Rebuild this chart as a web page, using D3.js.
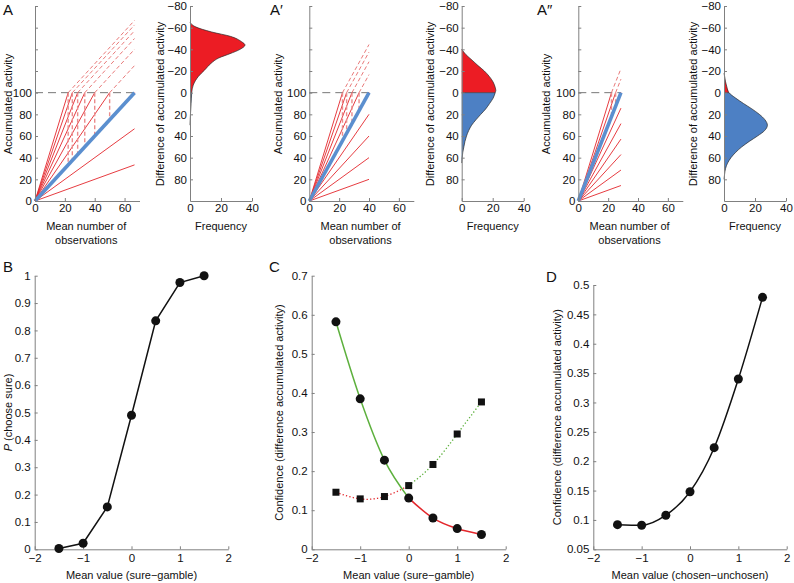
<!DOCTYPE html>
<html><head><meta charset="utf-8">
<script src="https://cdn.jsdelivr.net/npm/d3@7"></script>
<style>
body{margin:0;background:#fff}
svg{font-family:"Liberation Sans",Arial,sans-serif}
</style></head><body>
<svg id="c" width="794" height="583"></svg>
<script>
// ---------- data ----------
const obsTicks = [0, 20, 40, 60];
const accTicks = [0, 20, 40, 60, 80, 100, 120, 140, 160, 180];
const accTickLabels = ["0", "20", "40", "60", "80", "100", "", "", "", ""];
const diffTicks = [-80, -60, -40, -20, 0, 20, 40, 60, 80];
const freqTicks = [0, 20, 40];
const threshold = 100;
const gambleRates = [0.5, 1, 1.5, 2, 2.5, 3, 3.5, 4, 4.5];
const sureRates = [1.5, 2.5, 3.5];
const panelNames = ["A", "A\u2032", "A\u2033"];

const distA_diff = [-65, -61, -56, -52, -47, -44, -40, -36, -32, -27, -21, -15, -7, 0, 5, 10, 15, 20, 25, 30];
const distA_freq = [0, 3.2, 14, 26, 33.3, 35.5, 32.3, 25.8, 18.5, 13.5, 9.5, 5.4, 2.1, 1.1, 0.9, 0.7, 0.5, 0.3, 0.15, 0];
const distA1_diff = [-40, -35, -30, -25, -20, -15, -10, -5, -2, 0, 5, 10, 15, 20, 25, 30, 35, 40, 45, 50, 55, 60, 65];
const distA1_freq = [0, 2.8, 6.7, 10.5, 14.6, 17.8, 20.2, 21.6, 22, 21.6, 20.3, 18, 15.5, 12.3, 9.2, 6.4, 4.5, 3.1, 2.1, 1.4, 0.7, 0.3, 0];
const distA2_diff = [-18, -15, -10, -5, 0, 5, 10, 15, 20, 25, 30, 35, 40, 45, 50, 55, 60, 65, 70, 75, 80];
const distA2_freq = [0, 0.4, 1, 1.9, 3.2, 7.5, 12.6, 18, 22.8, 26.4, 28, 26.2, 21.6, 16.3, 11.5, 7.6, 4.5, 2.3, 1, 0.4, 0];

const meanValue = [-1.5, -1, -0.5, 0, 0.5, 1, 1.5];
const valueTicks = [-2, -1, 0, 1, 2];
const pChooseSure = [0.003, 0.022, 0.155, 0.49, 0.835, 0.975, 1.0];
const pTicks = [0, 0.1, 0.2, 0.3, 0.4, 0.5, 0.6, 0.7, 0.8, 0.9, 1];
const confCircle = [0.582, 0.385, 0.228, 0.131, 0.080, 0.053, 0.038];
const confSquare = [0.146, 0.129, 0.135, 0.163, 0.217, 0.295, 0.377];
const cTicks = [0, 0.1, 0.2, 0.3, 0.4, 0.5, 0.6, 0.7];
const confChosen = [0.092, 0.091, 0.108, 0.148, 0.223, 0.340, 0.479];
const dTicks = [0.05, 0.1, 0.15, 0.2, 0.25, 0.3, 0.35, 0.4, 0.45, 0.5];

// ---------- style ----------
const AX = "#808080", TXT = "#111", RED = "#e3262b", RED_D = "#e56a6a", BLUE_L = "#5b8fcf",
      RED_F = "#ec1c24", BLUE_F = "#4d80c4", GREEN = "#5db03d";
const svg = d3.select("#c");
const fmt = d3.format("");

function styleAxis(g, fs) {
  g.select(".domain").attr("stroke", AX).attr("stroke-width", 1);
  g.selectAll(".tick line").attr("stroke", AX);
  g.selectAll(".tick text").attr("fill", TXT).style("font-size", fs + "px");
  g.attr("font-family", null);
}
function vLabel(x, y, text, fs) {
  return svg.append("text").attr("transform", `translate(${x},${y}) rotate(-90)`)
    .attr("text-anchor", "middle").attr("dominant-baseline", "central")
    .style("font-size", fs + "px").attr("fill", TXT).text(text);
}
function hLabel(x, y, text, fs) {
  return svg.append("text").attr("x", x).attr("y", y).attr("text-anchor", "middle")
    .attr("dominant-baseline", "central").style("font-size", fs + "px").attr("fill", TXT).text(text);
}

// ---------- top panels ----------
const leftX0 = [35, 309.3, 578.3];
const histX0 = [190, 461.7, 724];
const labelLX = [8.3, 278.3, 545.7];
const labelRX = [160, 430, 693.3];
const letterX = [3, 270, 537];
const dists = [[distA_diff, distA_freq], [distA1_diff, distA1_freq], [distA2_diff, distA2_freq]];
const yTop = 6, yBot = 201;

sureRates.forEach((s, i) => {
  const x = d3.scaleLinear().domain([0, 70]).range([leftX0[i], leftX0[i] + 104.5]);
  const y = d3.scaleLinear().domain([0, 180]).range([yBot, yTop]);
  const T = threshold / s;
  const g = svg.append("g");

  g.append("line").attr("x1", x(0)).attr("x2", x(T)).attr("y1", y(threshold)).attr("y2", y(threshold))
    .attr("stroke", "#777").attr("stroke-width", 1).attr("stroke-dasharray", "8,5");

  gambleRates.forEach(r => {
    const t = threshold / r;
    if (t < T) {
      g.append("line").attr("x1", x(0)).attr("y1", y(0)).attr("x2", x(t)).attr("y2", y(threshold))
        .attr("stroke", RED).attr("stroke-width", 0.9);
      g.append("line").attr("x1", x(t)).attr("y1", y(threshold)).attr("x2", x(T)).attr("y2", y(threshold + s * (T - t)))
        .attr("stroke", RED_D).attr("stroke-width", 0.9).attr("stroke-dasharray", "4,2.5");
      g.append("line").attr("x1", x(t)).attr("y1", y(threshold)).attr("x2", x(t)).attr("y2", y(s * t))
        .attr("stroke", "#ea8c8c").attr("stroke-width", 1.4).attr("stroke-dasharray", "4,2.5");
    } else {
      g.append("line").attr("x1", x(0)).attr("y1", y(0)).attr("x2", x(T)).attr("y2", y(r * T))
        .attr("stroke", RED).attr("stroke-width", 0.9);
    }
  });
  g.append("line").attr("x1", x(0)).attr("y1", y(0)).attr("x2", x(T)).attr("y2", y(threshold))
    .attr("stroke", BLUE_L).attr("stroke-width", 3.6).attr("stroke-linecap", "butt");

  const ax = svg.append("g").attr("transform", `translate(0,${yBot})`)
    .call(d3.axisBottom(x).tickValues(obsTicks).tickSizeInner(-3).tickSizeOuter(0).tickPadding(2.5).tickFormat(fmt));
  styleAxis(ax, 11.5);
  const ay = svg.append("g").attr("transform", `translate(${leftX0[i]},0)`)
    .call(d3.axisLeft(y).tickValues(accTicks).tickSizeInner(-3).tickSizeOuter(0).tickPadding(3)
      .tickFormat((d, k) => accTickLabels[k]));
  styleAxis(ay, 11.5);
  vLabel(labelLX[i], 104, "Accumulated activity", 11);
  hLabel(x(35) - 1, 226, "Mean number of", 11);
  hLabel(x(35) - 1, 239.5, "observations", 11);

  const hx = d3.scaleLinear().domain([0, 40]).range([histX0[i], histX0[i] + 62]);
  const hy = d3.scaleLinear().domain([-80, 100]).range([yTop, yBot]);
  const pts = dists[i][0].map((d, k) => [d, dists[i][1][k]]);
  const neg = pts.filter(p => p[0] <= 0), pos = pts.filter(p => p[0] >= 0);
  const area = d3.area().curve(d3.curveMonotoneY).y(d => hy(d[0])).x0(hx(0)).x1(d => hx(d[1]));
  const line = d3.line().curve(d3.curveMonotoneY).y(d => hy(d[0])).x(d => hx(d[1]));
  svg.append("path").attr("d", area(neg)).attr("fill", RED_F);
  svg.append("path").attr("d", area(pos)).attr("fill", BLUE_F);
  svg.append("path").attr("d", line(pts)).attr("fill", "none").attr("stroke", "#2a2a2a").attr("stroke-width", 0.7);
  const z = pts.find(p => p[0] === 0);
  svg.append("line").attr("x1", hx(0)).attr("x2", hx(z[1])).attr("y1", hy(0)).attr("y2", hy(0))
    .attr("stroke", "#2a2a2a").attr("stroke-width", 0.6);

  const hax = svg.append("g").attr("transform", `translate(0,${yBot})`)
    .call(d3.axisBottom(hx).tickValues(freqTicks).tickSizeInner(-3).tickSizeOuter(0).tickPadding(2.5).tickFormat(fmt));
  styleAxis(hax, 11.5);
  const hay = svg.append("g").attr("transform", `translate(${histX0[i]},0)`)
    .call(d3.axisLeft(hy).tickValues(diffTicks).tickSizeInner(-3).tickSizeOuter(0).tickPadding(3).tickFormat(fmt));
  styleAxis(hay, 11.5);
  vLabel(labelRX[i], 104, "Difference of accumulated activity", 11);
  hLabel(hx(20), 226, "Frequency", 11);

  svg.append("text").attr("x", letterX[i]).attr("y", 15).style("font-size", "15px").attr("fill", TXT).text(panelNames[i]);
});

// ---------- bottom panels ----------
function bottomPanel(x0, x1, yTopB, dom, ticks, letter, letterPos, ylab, ylabX, xlab) {
  const x = d3.scaleLinear().domain([-2, 2]).range([x0, x1]);
  const y = d3.scaleLinear().domain(dom).range([549.3, yTopB]);
  const ax = svg.append("g").attr("transform", `translate(0,549.3)`)
    .call(d3.axisBottom(x).tickValues(valueTicks).tickSizeInner(-3).tickSizeOuter(0).tickPadding(5).tickFormat(fmt));
  styleAxis(ax, 11.5);
  const ay = svg.append("g").attr("transform", `translate(${x0},0)`)
    .call(d3.axisLeft(y).tickValues(ticks).tickSizeInner(-3).tickSizeOuter(0).tickPadding(4).tickFormat(fmt));
  styleAxis(ay, 11.5);
  hLabel((x0 + x1) / 2, 575, xlab, 11);
  const yl = vLabel(ylabX, (549.3 + yTopB) / 2, "", 11);
  ylab(yl);
  svg.append("text").attr("x", letterPos[0]).attr("y", letterPos[1]).style("font-size", "15px").attr("fill", TXT).text(letter);
  return {x, y};
}

// B
{
  const {x, y} = bottomPanel(34.7, 228.3, 275.7, [0, 1], pTicks, "B", [3, 272], t => {
    t.append("tspan").style("font-style", "italic").text("P");
    t.append("tspan").text(" (choose sure)");
  }, 8.3, "Mean value (sure\u2212gamble)");
  const pts = meanValue.map((v, k) => [v, pChooseSure[k]]);
  svg.append("path").attr("d", d3.line().x(d => x(d[0])).y(d => y(d[1]))(pts))
    .attr("fill", "none").attr("stroke", "#111").attr("stroke-width", 1.5);
  svg.selectAll(null).data(pts).enter().append("circle").attr("cx", d => x(d[0])).attr("cy", d => y(d[1]))
    .attr("r", 4.5).attr("fill", "#111");
}
// C
{
  const {x, y} = bottomPanel(311.7, 505.7, 275.7, [0, 0.7], cTicks, "C", [269, 272], t => {
    t.text("Confidence (difference accumulated activity)");
  }, 279, "Mean value (sure\u2212gamble)");
  const circ = meanValue.map((v, k) => [v, confCircle[k]]);
  const sq = meanValue.map((v, k) => [v, confSquare[k]]);
  const ln = d3.line().curve(d3.curveMonotoneX).x(d => x(d[0])).y(d => y(d[1]));
  const lnS = d3.line().curve(d3.curveNatural).x(d => x(d[0])).y(d => y(d[1]));
  svg.append("path").attr("d", lnS(sq.filter(d => d[0] <= 0))).attr("fill", "none").attr("stroke", RED)
    .attr("stroke-width", 1.3).attr("stroke-dasharray", "1.3,2.2");
  svg.append("path").attr("d", lnS(sq.filter(d => d[0] >= 0))).attr("fill", "none").attr("stroke", GREEN)
    .attr("stroke-width", 1.3).attr("stroke-dasharray", "1.3,2.2");
  svg.append("path").attr("d", ln(circ.filter(d => d[0] <= 0))).attr("fill", "none").attr("stroke", GREEN).attr("stroke-width", 1.5);
  svg.append("path").attr("d", ln(circ.filter(d => d[0] >= 0))).attr("fill", "none").attr("stroke", RED).attr("stroke-width", 1.5);
  svg.selectAll(null).data(circ).enter().append("circle").attr("cx", d => x(d[0])).attr("cy", d => y(d[1]))
    .attr("r", 4.5).attr("fill", "#111");
  svg.selectAll(null).data(sq).enter().append("rect").attr("x", d => x(d[0]) - 3.5).attr("y", d => y(d[1]) - 3.5)
    .attr("width", 7).attr("height", 7).attr("fill", "#111");
}
// D
{
  const {x, y} = bottomPanel(593.3, 786.7, 285, [0.05, 0.5], dTicks, "D", [546, 282], t => {
    t.text("Confidence (difference accumulated activity)");
  }, 556.7, "Mean value (chosen\u2212unchosen)");
  const pts = meanValue.map((v, k) => [v, confChosen[k]]);
  svg.append("path").attr("d", d3.line().curve(d3.curveMonotoneX).x(d => x(d[0])).y(d => y(d[1]))(pts))
    .attr("fill", "none").attr("stroke", "#111").attr("stroke-width", 1.5);
  svg.selectAll(null).data(pts).enter().append("circle").attr("cx", d => x(d[0])).attr("cy", d => y(d[1]))
    .attr("r", 4.5).attr("fill", "#111");
}
</script>
</body></html>
